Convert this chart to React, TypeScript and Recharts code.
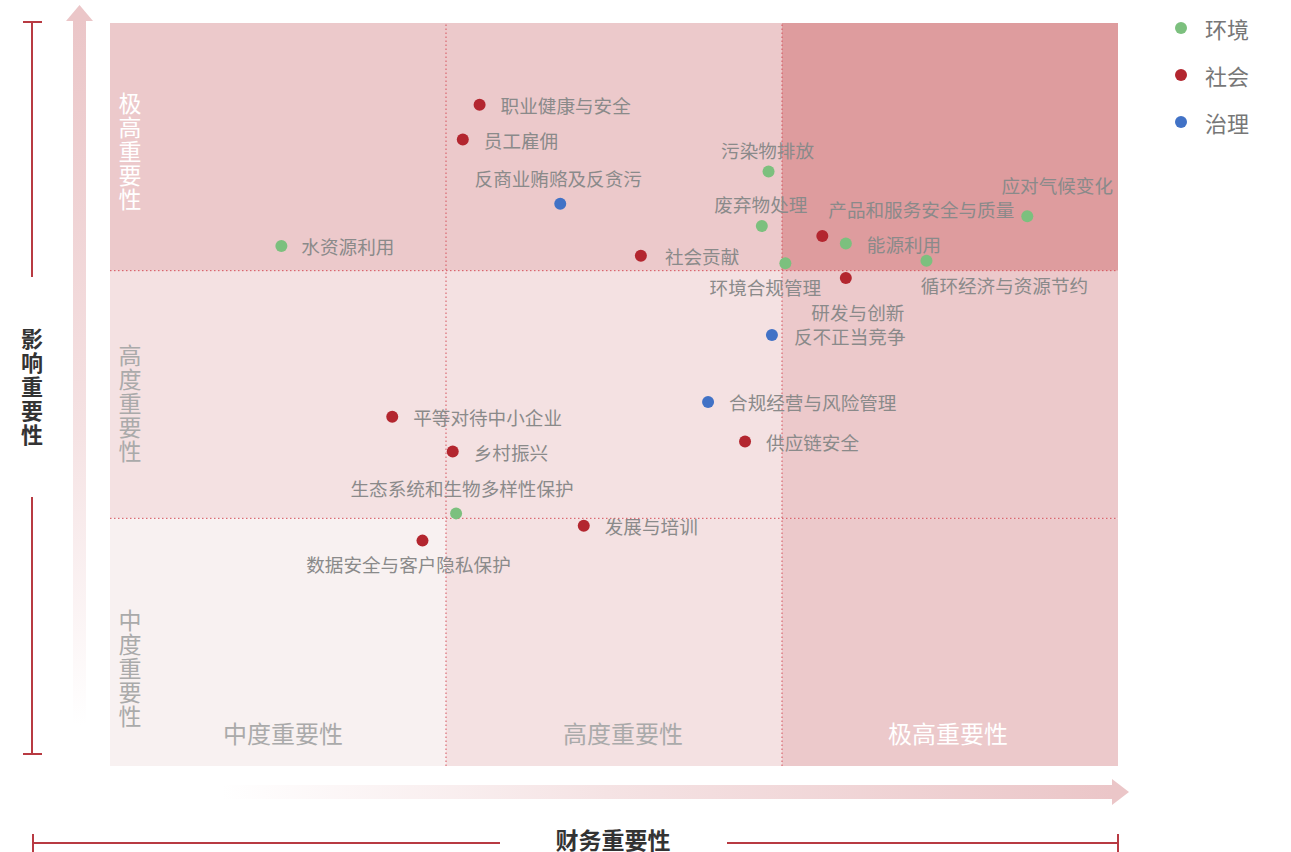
import React from 'react';
import {
  ScatterChart,
  Scatter,
  XAxis,
  YAxis,
  ReferenceArea,
  ReferenceLine,
  Legend,
} from 'recharts';

// ---------- data ----------
const categories = ['环境', '社会', '治理'];

const topics = [
  '职业健康与安全',
  '员工雇佣',
  '反商业贿赂及反贪污',
  '水资源利用',
  '社会贡献',
  '污染物排放',
  '废弃物处理',
  '环境合规管理',
  '产品和服务安全与质量',
  '能源利用',
  '循环经济与资源节约',
  '研发与创新',
  '应对气候变化',
  '反不正当竞争',
  '合规经营与风险管理',
  '供应链安全',
  '平等对待中小企业',
  '乡村振兴',
  '生态系统和生物多样性保护',
  '发展与培训',
  '数据安全与客户隐私保护',
];

// financial materiality (x) and impact materiality (y), scale 0-3
const financialScores = [
  1.1, 1.05, 1.34, 0.51, 1.58, 1.96, 1.94, 2.01, 2.12, 2.19, 2.43,
  2.19, 2.73, 1.97, 1.78, 1.89, 0.84, 1.02, 1.03, 1.41, 0.93,
];
const impactScores = [
  2.67, 2.53, 2.27, 2.1, 2.06, 2.4, 2.18, 2.03, 2.14, 2.11, 2.04,
  1.97, 2.22, 1.74, 1.47, 1.31, 1.41, 1.27, 1.02, 0.97, 0.91,
];
const topicCategory = [
  '社会', '社会', '治理', '环境', '社会', '环境', '环境', '环境', '社会', '环境', '环境',
  '社会', '环境', '治理', '治理', '社会', '社会', '社会', '环境', '社会', '社会',
];

const levelLabels = ['中度重要性', '高度重要性', '极高重要性'];
const levelBounds = [0, 1, 2, 3];

// ---------- styles ----------
const FONT = '"Noto Sans CJK SC", "Noto Sans", sans-serif';
const categoryColors: Record<string, string> = {
  环境: '#7cc07e',
  社会: '#b3262f',
  治理: '#4172c6',
};
// cellFill[row][col], row = impact level (0 = 中度), col = financial level
const cellFill = [
  ['#f8f1f1', '#f4e1e2', '#ecc9cb'],
  ['#f4e1e2', '#f4e1e2', '#ecc9cb'],
  ['#ecc9cb', '#ecc9cb', '#de9c9e'],
];
const verticalLabelOffset = [101, 83, 79];
const horizontalLabelShift = [5, 9, -2];

type Lay = { dx: number; dy: number; anchor: 'start' | 'middle' | 'end' };
const R = (dx = 21): Lay => ({ dx, dy: 0, anchor: 'start' });
const labelLayout: Record<string, Lay> = {
  职业健康与安全: R(),
  员工雇佣: R(),
  反商业贿赂及反贪污: { dx: -2, dy: -26, anchor: 'middle' },
  水资源利用: R(20),
  社会贡献: R(24),
  污染物排放: { dx: -1, dy: -22, anchor: 'middle' },
  废弃物处理: { dx: -1, dy: -23, anchor: 'middle' },
  环境合规管理: { dx: -20, dy: 23, anchor: 'middle' },
  产品和服务安全与质量: { dx: 99, dy: -27, anchor: 'middle' },
  能源利用: R(21),
  循环经济与资源节约: { dx: 78, dy: 24, anchor: 'middle' },
  研发与创新: { dx: 12, dy: 33, anchor: 'middle' },
  应对气候变化: { dx: 30, dy: -32, anchor: 'middle' },
  反不正当竞争: R(22),
  合规经营与风险管理: R(),
  供应链安全: R(),
  平等对待中小企业: R(),
  乡村振兴: R(),
  生态系统和生物多样性保护: { dx: 6, dy: -26, anchor: 'middle' },
  发展与培训: R(),
  数据安全与客户隐私保护: { dx: -14, dy: 23, anchor: 'middle' },
};

const seriesData = categories.map((cat) =>
  topics
    .map((name, i) => ({
      name,
      x: financialScores[i],
      y: impactScores[i],
      cat: topicCategory[i],
    }))
    .filter((d) => d.cat === cat)
);

const renderPoint = (props: any) => {
  const { cx, cy, payload, fill } = props;
  const lay = labelLayout[payload.name] || R();
  return (
    <g>
      <circle cx={cx} cy={cy} r={6} fill={fill} />
      <text
        x={cx + lay.dx}
        y={cy + lay.dy}
        textAnchor={lay.anchor}
        dominantBaseline="central"
        fontSize={18.6}
        fontFamily={FONT}
        fill="#8a8a8a"
      >
        {payload.name}
      </text>
    </g>
  );
};

const makeCellLabel = (row: number, col: number) => (props: any) => {
  const vb = props.viewBox || {};
  const { x = 0, y = 0, width = 0, height = 0 } = vb;
  const parts: React.ReactNode[] = [];
  if (row === 0) {
    parts.push(
      <text
        key="h"
        x={x + width / 2 + horizontalLabelShift[col]}
        y={y + height - 34}
        textAnchor="middle"
        dominantBaseline="central"
        fontSize={24}
        fontFamily={FONT}
        fill={col === 2 ? '#ffffff' : '#aaaaaa'}
      >
        {levelLabels[col]}
      </text>
    );
  }
  if (col === 0) {
    const chars = levelLabels[row].split('');
    chars.forEach((ch, k) => {
      parts.push(
        <text
          key={'v' + k}
          x={x + 20}
          y={y + verticalLabelOffset[row] + k * 24}
          textAnchor="middle"
          dominantBaseline="central"
          fontSize={23}
          fontFamily={FONT}
          fill={row === 2 ? '#ffffff' : '#aaaaaa'}
        >
          {ch}
        </text>
      );
    });
  }
  return <g>{parts}</g>;
};

const renderLegend = (props: any) => {
  const payload = props.payload || [];
  const colorOf = (cat: string) => {
    const p = payload.find((e: any) => e.value === cat);
    return (p && p.color) || categoryColors[cat];
  };
  return (
    <svg width={120} height={150} style={{ display: 'block' }}>
      {categories.map((cat, i) => (
        <g key={cat}>
          <circle cx={11} cy={28 + i * 47} r={6} fill={colorOf(cat)} />
          <text
            x={35}
            y={28 + i * 47}
            dominantBaseline="central"
            fontSize={22}
            fontFamily={FONT}
            fill="#777777"
          >
            {cat}
          </text>
        </g>
      ))}
    </svg>
  );
};

const Decorations = () => (
  <svg
    width={1291}
    height={852}
    style={{ position: 'absolute', left: 0, top: 0, pointerEvents: 'none' }}
  >
    <defs>
      <linearGradient id="vGrad" x1="0" y1="0" x2="0" y2="1">
        <stop offset="0" stopColor="#ebc6c8" />
        <stop offset="0.55" stopColor="#f5e2e3" />
        <stop offset="0.95" stopColor="#ffffff" />
      </linearGradient>
      <linearGradient id="hGrad" x1="0" y1="0" x2="1" y2="0">
        <stop offset="0" stopColor="#ffffff" />
        <stop offset="0.12" stopColor="#ffffff" />
        <stop offset="0.5" stopColor="#f5e3e4" />
        <stop offset="1" stopColor="#ebc6c8" />
      </linearGradient>
    </defs>
    {/* vertical arrow */}
    <rect x={73} y={20} width={13} height={742} fill="url(#vGrad)" />
    <polygon points="66,21 93,21 79.5,5" fill="#ebc6c8" />
    {/* horizontal arrow */}
    <rect x={100} y={785} width={1013} height={14} fill="url(#hGrad)" />
    <polygon points="1112,779 1112,805 1129,792" fill="#ebc6c8" />
    {/* brackets */}
    <g stroke="#b83a42" strokeWidth={2}>
      <line x1={32} y1={22} x2={32} y2={277} />
      <line x1={23} y1={22} x2={42} y2={22} />
      <line x1={32} y1={497} x2={32} y2={754} />
      <line x1={23} y1={754} x2={42} y2={754} />
      <line x1={33} y1={843} x2={500} y2={843} />
      <line x1={727} y1={843} x2={1118} y2={843} />
      <line x1={33} y1={834} x2={33} y2={852} />
      <line x1={1118} y1={834} x2={1118} y2={852} />
    </g>
    {'影响重要性'.split('').map((ch, k) => (
      <text
        key={k}
        x={32}
        y={337 + k * 24}
        textAnchor="middle"
        dominantBaseline="central"
        fontSize={22}
        fontWeight="bold"
        fontFamily={FONT}
        fill="#333333"
      >
        {ch}
      </text>
    ))}
    <text
      x={613}
      y={839}
      textAnchor="middle"
      dominantBaseline="central"
      fontSize={23}
      fontWeight="bold"
      fontFamily={FONT}
      fill="#333333"
    >
      财务重要性
    </text>
  </svg>
);

export default function App() {
  const cells: React.ReactNode[] = [];
  for (let row = 0; row < 3; row++) {
    for (let col = 0; col < 3; col++) {
      cells.push(
        <ReferenceArea
          key={`c${row}${col}`}
          x1={levelBounds[col]}
          x2={levelBounds[col + 1]}
          y1={levelBounds[row]}
          y2={levelBounds[row + 1]}
          fill={cellFill[row][col]}
          fillOpacity={1}
          stroke="none"
          label={makeCellLabel(row, col)}
        />
      );
    }
  }
  return (
    <div style={{ position: 'absolute', left: 0, top: 0, width: 1291, height: 852, fontFamily: FONT }}>
      <Decorations />
      <div style={{ position: 'absolute', left: 0, top: 0 }}>
        <ScatterChart
          width={1291}
          height={852}
          margin={{ top: 23, right: 173, bottom: 86, left: 110 }}
        >
          <XAxis type="number" dataKey="x" domain={[0, 3]} hide />
          <YAxis type="number" dataKey="y" domain={[0, 3]} hide />
          {cells}
          {[1, 2].map((v) => (
            <ReferenceLine
              key={'vx' + v}
              x={v}
              stroke="#d5515b"
              strokeWidth={1}
              strokeDasharray="1.5 2.5"
            />
          ))}
          {[1, 2].map((v) => (
            <ReferenceLine
              key={'hy' + v}
              y={v}
              stroke="#d5515b"
              strokeWidth={1}
              strokeDasharray="1.5 2.5"
            />
          ))}
          {categories.map((cat, i) => (
            <Scatter
              key={cat}
              name={cat}
              data={seriesData[i]}
              fill={categoryColors[cat]}
              shape={renderPoint}
              isAnimationActive={false}
            />
          ))}
          <Legend
            layout="vertical"
            align="center"
            verticalAlign="middle"
            wrapperStyle={{ position: 'absolute', left: 1170, top: 0, width: 120, height: 150 }}
            content={renderLegend}
          />
        </ScatterChart>
      </div>
    </div>
  );
}
